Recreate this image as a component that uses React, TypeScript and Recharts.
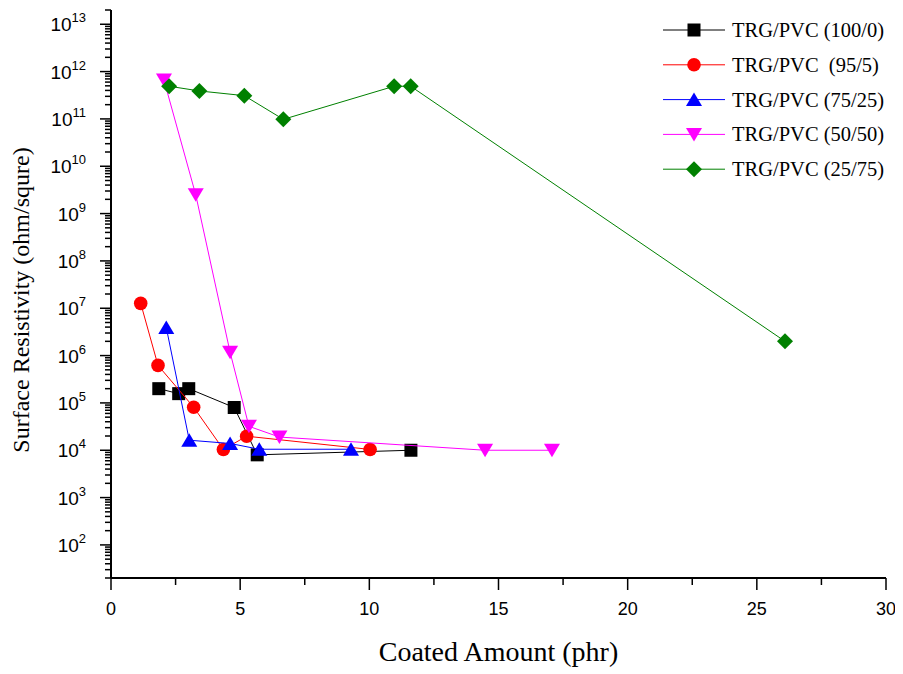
import React from 'react';
import { ScatterChart, Scatter, XAxis, YAxis, Legend, Label } from 'recharts';

// TRG/PVC blends, coated amount (phr) vs surface resistivity (ohm/sq)
const trg100X = [1.85, 2.62, 3.01, 4.77, 5.66, 11.61];
const trg100Y = [2.0e5, 1.57e5, 2.0e5, 8.0e4, 8.0e3, 1.0e4];

const trg95X = [1.15, 1.82, 3.2, 4.35, 5.25, 10.03];
const trg95Y = [1.27e7, 6.2e5, 8.1e4, 1.04e4, 1.98e4, 1.04e4];

const trg75X = [2.14, 3.03, 4.61, 5.74, 9.29];
const trg75Y = [3.9e6, 1.63e4, 1.39e4, 1.05e4, 1.05e4];

const trg50X = [2.05, 3.28, 4.61, 5.34, 6.52, 14.48, 17.07];
const trg50Y = [6.6e11, 2.5e9, 1.18e6, 3.2e4, 1.9e4, 1.0e4, 1.0e4];

const trg25X = [2.25, 3.42, 5.16, 6.67, 10.96, 11.6, 26.09];
const trg25Y = [4.9e11, 3.9e11, 3.1e11, 9.8e10, 4.9e11, 4.9e11, 2.0e6];

const seriesLabels = [
  'TRG/PVC (100/0)',
  'TRG/PVC\u00a0 (95/5)',
  'TRG/PVC (75/25)',
  'TRG/PVC (50/50)',
  'TRG/PVC (25/75)',
];
const seriesColors = ['#000000', '#ff0000', '#0000ff', '#ff00ff', '#008000'];
const seriesShapes = ['square', 'circle', 'triangle', 'triangleDown', 'diamond'];

const xMajorTicks = [0, 5, 10, 15, 20, 25, 30];
const xMinorTicks = [2.5, 7.5, 12.5, 17.5, 22.5, 27.5];
const yDecades = [1e1, 1e2, 1e3, 1e4, 1e5, 1e6, 1e7, 1e8, 1e9, 1e10, 1e11, 1e12, 1e13];
const yMinorSteps = [2, 3, 4, 5, 6, 7, 8, 9];

const Y_MIN = 20;
const Y_MAX = 2e13;

const toPoints = (xs: number[], ys: number[]) => xs.map((x, i) => ({ x, y: ys[i] }));

const seriesData = [
  toPoints(trg100X, trg100Y),
  toPoints(trg95X, trg95Y),
  toPoints(trg75X, trg75Y),
  toPoints(trg50X, trg50Y),
  toPoints(trg25X, trg25Y),
];

const xTicks = [...xMajorTicks, ...xMinorTicks].sort((a, b) => a - b);
const yTicks: number[] = [];
yDecades.forEach((d) => {
  if (d >= Y_MIN && d <= Y_MAX) yTicks.push(d);
  yMinorSteps.forEach((m) => {
    const v = d * m;
    if (v >= Y_MIN && v <= Y_MAX * 1.0001) yTicks.push(v);
  });
});
yTicks.sort((a, b) => a - b);

const SANS = '"Liberation Sans", Arial, sans-serif';
const SERIF = '"Liberation Serif", "Times New Roman", serif';

const Marker = ({ kind, cx, cy, color }: { kind: string; cx: number; cy: number; color: string }) => {
  if (kind === 'square') {
    return <rect x={cx - 6.5} y={cy - 6.5} width={13} height={13} fill={color} />;
  }
  if (kind === 'circle') {
    return <circle cx={cx} cy={cy} r={6.8} fill={color} />;
  }
  if (kind === 'triangle') {
    return <polygon points={`${cx - 8},${cy + 6.5} ${cx + 8},${cy + 6.5} ${cx},${cy - 7}`} fill={color} />;
  }
  if (kind === 'triangleDown') {
    return <polygon points={`${cx - 8},${cy - 6.5} ${cx + 8},${cy - 6.5} ${cx},${cy + 7}`} fill={color} />;
  }
  return <polygon points={`${cx},${cy - 8} ${cx + 8},${cy} ${cx},${cy + 8} ${cx - 8},${cy}`} fill={color} />;
};

const YTick = (props: any) => {
  const { x, y, payload } = props;
  const e = Math.log10(payload.value);
  const major = Math.abs(e - Math.round(e)) < 1e-6;
  return (
    <g>
      <line x1={x} x2={x - (major ? 11 : 6)} y1={y} y2={y} stroke="#000" strokeWidth={1.5} />
      {major && (
        <text x={x - 25} y={y + 7} textAnchor="end" fontFamily={SANS} fontSize={19} fill="#000">
          10
          <tspan dy={-9} fontSize={13}>
            {Math.round(e)}
          </tspan>
        </text>
      )}
    </g>
  );
};

const XTick = (props: any) => {
  const { x, y, payload } = props;
  const major = xMajorTicks.includes(payload.value);
  return (
    <g>
      <line x1={x} x2={x} y1={y} y2={y + (major ? 12 : 7)} stroke="#000" strokeWidth={1.5} />
      {major && (
        <text x={x} y={y + 37} textAnchor="middle" fontFamily={SANS} fontSize={18} fill="#000">
          {payload.value}
        </text>
      )}
    </g>
  );
};

const renderLegend = () => (
  <svg width={250} height={185}>
    {seriesLabels.map((label, i) => {
      const y = 20 + i * 34.8;
      return (
        <g key={label}>
          <line x1={13} x2={75} y1={y} y2={y} stroke={seriesColors[i]} strokeWidth={1} />
          <Marker kind={seriesShapes[i]} cx={44} cy={y} color={seriesColors[i]} />
          <text x={82} y={y + 7} fontFamily={SERIF} fontSize={20.5} fill="#000" style={{ whiteSpace: 'pre' }}>
            {label}
          </text>
        </g>
      );
    })}
  </svg>
);

export default function App() {
  return (
    <ScatterChart width={890} height={660} margin={{ top: 2, right: 12, bottom: 0, left: 0 }}>
      <XAxis
        type="number"
        dataKey="x"
        domain={[0, 30]}
        ticks={xTicks}
        interval={0}
        height={90}
        tickSize={0}
        tickMargin={0}
        tickLine={false}
        tick={<XTick />}
        axisLine={{ stroke: '#000', strokeWidth: 2 }}
        allowDataOverflow
      >
        <Label
          content={(p: any) => {
            const vb = p.viewBox;
            return (
              <text x={vb.x + vb.width / 2} y={vb.y + vb.height - 7} textAnchor="middle" fontFamily={SERIF} fontSize={28} fill="#000">
                Coated Amount (phr)
              </text>
            );
          }}
        />
      </XAxis>
      <YAxis
        type="number"
        dataKey="y"
        scale="log"
        domain={[Y_MIN, Y_MAX]}
        ticks={yTicks}
        interval={0}
        width={103}
        tickSize={0}
        tickMargin={0}
        tickLine={false}
        tick={<YTick />}
        axisLine={{ stroke: '#000', strokeWidth: 2 }}
        allowDataOverflow
      >
        <Label
          content={(p: any) => {
            const vb = p.viewBox;
            const cx = 20.5;
            const cy = vb.y + vb.height / 2 + 6;
            return (
              <text x={cx} y={cy} transform={`rotate(-90, ${cx}, ${cy})`} textAnchor="middle" fontFamily={SERIF} fontSize={24} fill="#000">
                Surface Resistivity (ohm/squre)
              </text>
            );
          }}
        />
      </YAxis>
      <Legend
        layout="vertical"
        align="center"
        verticalAlign="middle"
        content={renderLegend}
        wrapperStyle={{ left: 642, top: 2, width: 250, height: 185 }}
      />
      {seriesData.map((data, i) => (
        <Scatter
          key={seriesLabels[i]}
          name={seriesLabels[i]}
          data={data}
          fill={seriesColors[i]}
          line={{ stroke: seriesColors[i], strokeWidth: 1 }}
          isAnimationActive={false}
          shape={(p: any) => <Marker kind={seriesShapes[i]} cx={p.cx} cy={p.cy} color={seriesColors[i]} />}
        />
      ))}
    </ScatterChart>
  );
}
